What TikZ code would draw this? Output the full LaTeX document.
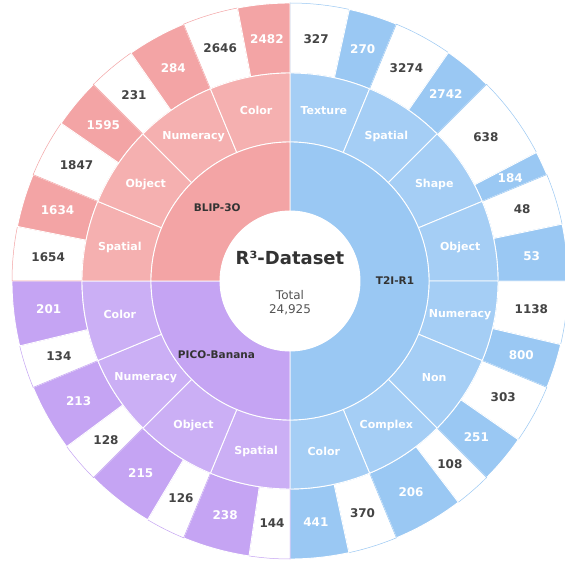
\documentclass[tikz,border=0pt]{standalone}
\usepackage{fontspec}
\setmainfont{DejaVu Sans}
\usetikzlibrary{positioning}

\definecolor{blipD}{HTML}{F3A4A5}
\definecolor{blipL}{HTML}{F5B0B0}
\definecolor{t2iD}{HTML}{9AC8F3}
\definecolor{t2iL}{HTML}{A5CEF5}
\definecolor{picoD}{HTML}{C5A4F3}
\definecolor{picoL}{HTML}{CBAFF5}
\definecolor{textdark}{HTML}{333333}
\definecolor{numdark}{HTML}{444444}
\definecolor{totalgray}{HTML}{555555}

% annular sector: r in, r out, start / end angle (clockwise from top), style
\newcommand{\ringseg}[5]{%
  \path[#5] ({90-#3}:#1) arc[start angle={90-#3}, end angle={90-#4}, radius=#1]
    -- ({90-#4}:#2) arc[start angle={90-#4}, end angle={90-#3}, radius=#2] -- cycle;}

% one model: dark colour, light colour, name, list name/start/white value/coloured value
\newcommand{\drawgroup}[4]{%
  \foreach \lbl/\ta/\va/\vb [count=\i] in {#4} {
    \pgfmathsetmacro\tb{\ta+22.5}
    \pgfmathsetmacro\tm{\ta+22.5*(\va/(\va+\vb))}
    \pgfmathsetmacro\ca{90-(\ta+\tm)/2}
    \pgfmathsetmacro\cb{90-(\tm+\tb)/2}
    \pgfmathsetmacro\cc{90-(\ta+\tb)/2}
    \ringseg{208}{278}{\ta}{\tm}{blank=#1}
    \ringseg{208}{278}{\tm}{\tb}{seg=#1}
    \ringseg{139}{208}{\ta}{\tb}{seg=#2}
    \node[numlbl, text=numdark] (#3-a\i) at (\ca:243) {\va};
    \node[numlbl] (#3-b\i) at (\cb:243) {\vb};
    \node[catlbl] (#3-cat\i) at (\cc:173.5) {\lbl};
  }}

\tikzset{
  seg/.style={fill=#1, draw=white, line width=0.9pt},
  blank/.style={fill=white, draw=#1, line width=0.5pt},
  grouplbl/.style={font=\bfseries\fontsize{10.5}{12}\selectfont, text=textdark},
  catlbl/.style={font=\bfseries\fontsize{11}{13}\selectfont, text=white},
  numlbl/.style={font=\bfseries\fontsize{12}{14}\selectfont, text=white}
}

\begin{document}
\begin{tikzpicture}[x=1pt, y=1pt]

    \useasboundingbox (0,0) rectangle (565,560);
    \clip (0,0) rectangle (565,560);

    \begin{scope}[shift={(290,279)}]

    % ---- T2I-R1 ----
    \drawgroup{t2iD}{t2iL}{t2i}{Texture/0/327/270, Spatial/22.5/3274/2742,
      Shape/45/638/184, Object/67.5/48/53, Numeracy/90/1138/800,
      Non/112.5/303/251, Complex/135/108/206, Color/157.5/370/441}

    % ---- PICO-Banana ----
    \drawgroup{picoD}{picoL}{pico}{Spatial/180/144/238, Object/202.5/126/215,
      Numeracy/225/128/213, Color/247.5/134/201}

    % ---- BLIP-3O ----
    \drawgroup{blipD}{blipL}{blip}{Spatial/270/1654/1634, Object/292.5/1847/1595,
      Numeracy/315/231/284, Color/337.5/2646/2482}

    % ---- Models ----
    \ringseg{70}{139}{0}{180}{seg=t2iD}
    \ringseg{70}{139}{180}{270}{seg=picoD}
    \ringseg{70}{139}{270}{360}{seg=blipD}
    \node[grouplbl] (t2i) at (0:105) {T2I-R1};
    \node[grouplbl] (pico) at (-135:104) {PICO-Banana};
    \node[grouplbl] (blip) at (135:103) {BLIP-3O};

    % ---- Centre ----
    \fill[white] (0,0) circle[radius=70];
    \node[font=\bfseries\fontsize{18}{20}\selectfont, text=textdark] (title) at (0,23) {R³-Dataset};
    \node[font=\fontsize{12}{14}\selectfont, text=totalgray, align=center] (total) at (0,-22) {Total\\24,925};

    \end{scope}

\end{tikzpicture}
\end{document}
